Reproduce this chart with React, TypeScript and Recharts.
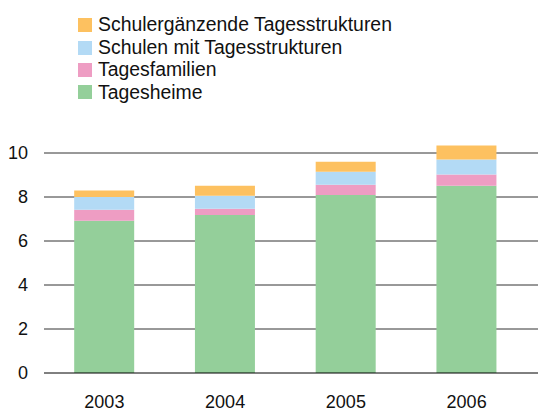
import { Bar, BarChart, CartesianGrid, XAxis, YAxis } from "recharts";

const years = ["2003", "2004", "2005", "2006"];
const tagesheime = [6.92, 7.18, 8.09, 8.51];
const tagesfamilien = [0.5, 0.29, 0.47, 0.51];
const schulenMitTS = [0.58, 0.59, 0.59, 0.68];
const schulergaenzend = [0.29, 0.45, 0.45, 0.64];
const yTicks = [0, 2, 4, 6, 8, 10];

const series = [
  { key: "heime", name: "Tagesheime", color: "#94cf9a" },
  { key: "familien", name: "Tagesfamilien", color: "#ee9dc3" },
  { key: "schulen", name: "Schulen mit Tagesstrukturen", color: "#b3daf5" },
  { key: "ergaenzend", name: "Schulergänzende Tagesstrukturen", color: "#fdc160" },
];

const data = years.map((year, i) => ({
  year,
  heime: tagesheime[i],
  familien: tagesfamilien[i],
  schulen: schulenMitTS[i],
  ergaenzend: schulergaenzend[i],
}));

const font = "'Liberation Sans', Arial, sans-serif";

/** legend is drawn top-down with the top stack segment first */
function StackLegend() {
  return (
    <div style={{ position: "absolute", left: 78, top: 14, fontFamily: font, fontSize: 19.4, color: "#111", lineHeight: 1 }}>
      {[...series].reverse().map((s) => (
        <div key={s.key} style={{ display: "flex", alignItems: "center", height: 22.4 }}>
          <span style={{ width: 14, height: 14, background: s.color, marginRight: 6, display: "inline-block" }} />
          {s.name}
        </div>
      ))}
    </div>
  );
}

export default function App() {
  return (
    <div style={{ position: "absolute", left: 0, top: 0, width: 538, height: 411, background: "#fff" }}>
      <BarChart
        width={538}
        height={411}
        data={data}
        margin={{ top: 131, right: 0, bottom: 0, left: 0 }}
        barCategoryGap="25%"
      >
        <CartesianGrid stroke="#333" vertical={false} horizontalValues={yTicks.slice(1)} />
        <XAxis
          dataKey="year"
          axisLine={{ stroke: "#000" }}
          tickLine={false}
          tickSize={0}
          tickMargin={22}
          height={38}
          padding={{ left: 0, right: 11 }}
          tick={{ fontSize: 18, fill: "#111", fontFamily: font }}
        />
        <YAxis
          width={44}
          domain={[0, 11]}
          ticks={yTicks}
          axisLine={false}
          tickLine={false}
          tickSize={0}
          tickMargin={16}
          tick={{ fontSize: 18, fill: "#111", fontFamily: font }}
        />
        {series.map((s) => (
          <Bar key={s.key} dataKey={s.key} name={s.name} stackId="a" fill={s.color} isAnimationActive={false} />
        ))}
      </BarChart>
      <StackLegend />
    </div>
  );
}
